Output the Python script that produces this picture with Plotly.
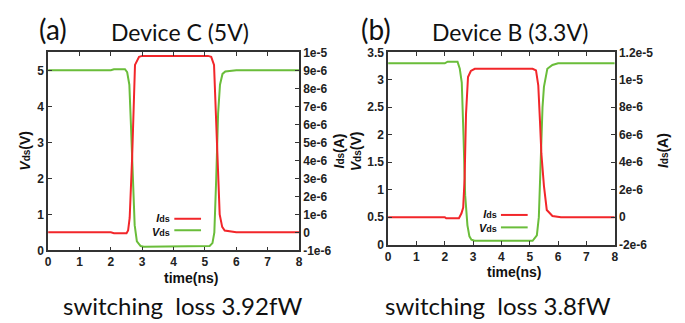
import plotly.graph_objects as go

W, H = 685, 323
OFF = 8  # page body margin of the browser

# ---------------- data ----------------
# Panel (a) Device C (5V)
t_vds_a = [0, 2.0, 2.1, 2.45, 2.52, 2.59, 2.64, 2.7, 2.76, 2.83, 2.95, 3.05, 5.0, 5.15, 5.24, 5.3, 5.36, 5.42, 5.48, 5.56, 5.65, 6.0, 8.0]
vds_a = [5.0, 5.0, 5.03, 5.03, 4.95, 4.6, 3.5, 1.8, 0.7, 0.25, 0.12, 0.1, 0.1, 0.12, 0.2, 0.5, 2.0, 3.8, 4.6, 4.9, 4.97, 5.0, 5.0]
t_ids_a = [0, 2.0, 2.1, 2.5, 2.55, 2.6, 2.68, 2.77, 2.9, 3.0, 5.1, 5.2, 5.29, 5.35, 5.41, 5.47, 5.55, 5.63, 6.0, 8.0]
ids_a = [0, 0, -0.05e-6, -0.05e-6, 0.1e-6, 0.8e-6, 4.2e-6, 9.3e-6, 9.75e-6, 9.8e-6, 9.8e-6, 9.75e-6, 9.3e-6, 6.5e-6, 3.0e-6, 1.0e-6, 0.3e-6, 0.1e-6, 0, 0]

# Panel (b) Device B (3.3V)
t_vds_b = [0, 2.0, 2.1, 2.45, 2.53, 2.6, 2.66, 2.72, 2.8, 2.87, 2.94, 3.05, 5.1, 5.25, 5.32, 5.39, 5.45, 5.5, 5.62, 5.8, 6.0, 8.0]
vds_b = [3.3, 3.3, 3.33, 3.33, 3.2, 2.95, 2.0, 0.9, 0.35, 0.15, 0.09, 0.07, 0.07, 0.17, 0.5, 1.6, 2.5, 2.87, 3.2, 3.27, 3.3, 3.3]
t_ids_b = [0, 2.0, 2.05, 2.5, 2.59, 2.65, 2.7, 2.75, 2.82, 2.92, 3.06, 5.1, 5.22, 5.3, 5.36, 5.41, 5.5, 5.6, 5.8, 6.1, 8.0]
ids_b = [0, 0, -0.08e-6, -0.08e-6, 0.28e-6, 0.7e-6, 2.8e-6, 7.5e-6, 10.2e-6, 10.64e-6, 10.8e-6, 10.8e-6, 10.68e-6, 9.6e-6, 7.0e-6, 4.6e-6, 2.28e-6, 0.52e-6, 0.08e-6, 0, 0]

# tick labels
x_ticks = [0, 1, 2, 3, 4, 5, 6, 7, 8]
v_ticks_a = [0, 1, 2, 3, 4, 5]
i_ticks_a = [-1e-6, 0, 1e-6, 2e-6, 3e-6, 4e-6, 5e-6, 6e-6, 7e-6, 8e-6, 9e-6, 1e-5]
i_text_a = ["-1e-6", "0", "1e-6", "2e-6", "3e-6", "4e-6", "5e-6", "6e-6", "7e-6", "8e-6", "9e-6", "1e-5"]
v_ticks_b = [0, 0.5, 1, 1.5, 2, 2.5, 3, 3.5]
v_text_b = ["0", "0.5", "1", "1.5", "2", "2.5", "3", "3.5"]
i_ticks_b = [-2e-6, 0, 2e-6, 4e-6, 6e-6, 8e-6, 1e-5, 1.2e-5]
i_text_b = ["-2e-6", "0", "2e-6", "4e-6", "6e-6", "8e-6", "1e-5", "1.2e-5"]

RED = "#f2262a"
GREEN = "#6abd3a"
BORDER = "#333333"

def px(x):
    return (x - OFF) / W

def py(y):
    return (H - (y - OFF)) / H

# plot areas in screen pixels
A = dict(l=45.5, r=299, t=47, b=254)
B = dict(l=389, r=618, t=47, b=248)

fig = go.Figure()
fig.add_trace(go.Scatter(x=t_ids_a, y=ids_a, xaxis="x", yaxis="y2", mode="lines",
                         line=dict(color=RED, width=2), showlegend=False))
fig.add_trace(go.Scatter(x=t_vds_a, y=vds_a, xaxis="x", yaxis="y", mode="lines",
                         line=dict(color=GREEN, width=2), showlegend=False))
fig.add_trace(go.Scatter(x=t_ids_b, y=ids_b, xaxis="x2", yaxis="y4", mode="lines",
                         line=dict(color=RED, width=2), showlegend=False))
fig.add_trace(go.Scatter(x=t_vds_b, y=vds_b, xaxis="x2", yaxis="y3", mode="lines",
                         line=dict(color=GREEN, width=2), showlegend=False))

tickfont = dict(family="Liberation Sans", size=12, color="#222222", weight="bold")
common = dict(showgrid=False, zeroline=False, showline=True, linecolor=BORDER, linewidth=1.5,
              ticks="inside", ticklen=4, tickcolor=BORDER, tickfont=tickfont)

fig.update_layout(
    width=W, height=H, margin=dict(l=0, r=0, t=0, b=0),
    paper_bgcolor="white", plot_bgcolor="white",
    xaxis=dict(domain=[px(A["l"]), px(A["r"])], range=[0, 8], tickvals=x_ticks, mirror="ticks",
               anchor="y", **common),
    yaxis=dict(domain=[py(A["b"]), py(A["t"])], range=[0, 5.5], tickvals=v_ticks_a,
               anchor="x", **common),
    yaxis2=dict(overlaying="y", side="right", anchor="x", range=[-1e-6, 1e-5],
                tickvals=i_ticks_a, ticktext=i_text_a, **common),
    xaxis2=dict(domain=[px(B["l"]), px(B["r"])], range=[0, 8], tickvals=x_ticks, mirror="ticks",
                anchor="y3", **common),
    yaxis3=dict(domain=[py(B["b"]), py(B["t"])], range=[0, 3.5], tickvals=v_ticks_b,
                ticktext=v_text_b, anchor="x2", **common),
    yaxis4=dict(overlaying="y3", side="right", anchor="x2", range=[-2e-6, 1.2e-5],
                tickvals=i_ticks_b, ticktext=i_text_b, **common),
)

def ann(x, y, text, size, family="Lato", weight="normal", angle=0, xanchor="center", align="center", color="#111111"):
    fig.add_annotation(x=px(x), y=py(y), xref="paper", yref="paper", text=text, showarrow=False,
                       xanchor=xanchor, yanchor="middle", textangle=angle, align=align,
                       font=dict(family=family, size=size, color=color, weight=weight))

# titles
ann(50, 23, "(a)", 28)
ann(179, 26, "Device C (5V)", 23)
ann(377, 23, "(b)", 28)
ann(512, 26, "Device B (3.3V)", 23)
ann(182, 312, "switching&#160;&#160;loss&#160;3.92fW", 24)
ann(500, 312, "switching&#160;&#160;loss&#160;3.8fW", 24)

# axis titles
bold = dict(family="Liberation Sans", weight="bold")
vlab = "<i>V</i><span style='font-size:10px'>ds</span>(V)"
ilab = "<i>I</i><span style='font-size:10px'>ds</span>(A)"
ann(22, 150, vlab, 14, angle=-90, **bold)
ann(339, 150, ilab, 14, angle=-90, **bold)
ann(356, 150, vlab, 14, angle=-90, **bold)
ann(667, 150, ilab, 14, angle=-90, **bold)
ann(190, 283, "time(ns)", 14, **bold)
ann(516, 277, "time(ns)", 14, **bold)

# legends (gnuplot style: label then line sample)
leg = "<i>I</i><span style='font-size:9px'>ds</span><br><i>V</i><span style='font-size:9px'>ds</span>"
ann(171, 227, leg, 11, xanchor="right", align="right", **bold)
ann(501, 223.5, leg, 11, xanchor="right", align="right", **bold)
for (x0, x1, y, c) in [(173, 200, 221, RED), (173, 200, 233, GREEN), (503, 530, 217, RED), (503, 530, 230, GREEN)]:
    fig.add_shape(type="line", xref="paper", yref="paper", x0=px(x0), x1=px(x1), y0=py(y), y1=py(y),
                  line=dict(color=c, width=2))

fig.write_html("out.html")
